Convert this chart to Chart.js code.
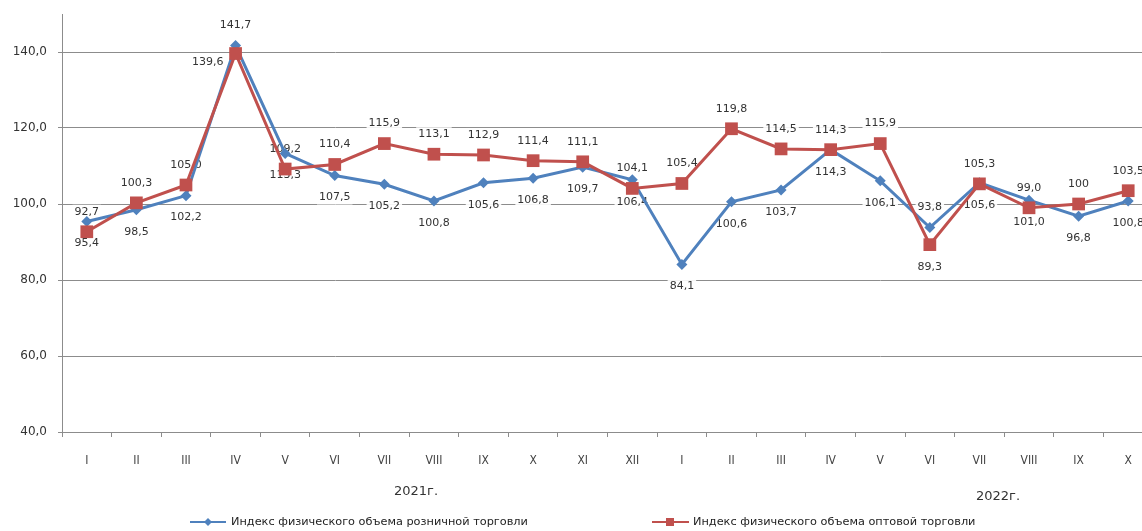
<!DOCTYPE html>
<html>
<head>
<meta charset="utf-8">
<script src="https://cdn.jsdelivr.net/npm/chart.js@4.4.1/dist/chart.umd.min.js"></script>
<style>
  html, body { margin: 0; padding: 0; background: #fff; overflow: hidden; }
  #wrap { width: 1154px; height: 531px; }
</style>
</head>
<body>
<div id="wrap"><canvas id="tradeChart" width="1154" height="531"></canvas></div>
<script>
(function() {
    const MONTHS = ['I', 'II', 'III', 'IV', 'V', 'VI', 'VII', 'VIII', 'IX', 'X', 'XI', 'XII',
                    'I', 'II', 'III', 'IV', 'V', 'VI', 'VII', 'VIII', 'IX', 'X'];
    const RETAIL = [95.4, 98.5, 102.2, 141.7, 113.3, 107.5, 105.2, 100.8, 105.6, 106.8, 109.7, 106.4,
                    84.1, 100.6, 103.7, 114.3, 106.1, 93.8, 105.6, 101.0, 96.8, 100.8];
    const WHOLESALE = [92.7, 100.3, 105.0, 139.6, 109.2, 110.4, 115.9, 113.1, 112.9, 111.4, 111.1, 104.1,
                       105.4, 119.8, 114.5, 114.3, 115.9, 89.3, 105.3, 99.0, 100, 103.5];
    const YEARS = ['2021г.', '2022г.'];
    const RETAIL_NAME = 'Индекс физического объема розничной торговли';
    const WHOLESALE_NAME = 'Индекс физического объема оптовой торговли';

    const BLUE = '#4F81BD';
    const RED = '#C0504D';
    const GRID = '#8c8c8c';

    function fmt(v) {
        if (v === 100) return '100';
        return v.toFixed(1).replace('.', ',');
    }

    // value labels, drawn under the lines like in the original
    const pointLabels = {
        id: 'pointLabels',
        beforeDatasetsDraw(chart, args, opts) {
            const ctx = chart.ctx;
            ctx.save();
            ctx.font = '11px "DejaVu Sans"';
            ctx.textBaseline = 'middle';
            ctx.textAlign = 'center';
            chart.data.datasets.forEach((ds, di) => {
                const meta = chart.getDatasetMeta(di);
                const place = opts.place[di];
                meta.data.forEach((pt, i) => {
                    const text = fmt(ds.data[i]);
                    const w = ctx.measureText(text).width;
                    let x = pt.x, y = pt.y;
                    const where = place[i];
                    if (where === 'a') y -= 20;
                    else if (where === 'b') y += 22;
                    else { x -= 12 + w / 2; y += 9; }
                    ctx.fillStyle = 'rgba(255,255,255,0.9)';
                    ctx.fillRect(x - w / 2 - 2, y - 7, w + 4, 14);
                    ctx.fillStyle = '#333';
                    ctx.fillText(text, x, y);
                });
            });
            ctx.restore();
        }
    };

    // year captions and legend under the axis
    const footer = {
        id: 'footer',
        afterDraw(chart) {
            const ctx = chart.ctx;
            ctx.save();
            ctx.fillStyle = '#333';
            ctx.textBaseline = 'middle';
            ctx.textAlign = 'center';
            ctx.font = '13px "DejaVu Sans"';
            ctx.fillText(YEARS[0], 416, 492);
            ctx.fillText(YEARS[1], 998, 497);

            ctx.textAlign = 'left';
            ctx.font = '11.3px "DejaVu Sans"';
            // retail
            ctx.strokeStyle = BLUE;
            ctx.lineWidth = 2;
            ctx.beginPath(); ctx.moveTo(190, 522); ctx.lineTo(226, 522); ctx.stroke();
            ctx.fillStyle = BLUE;
            ctx.beginPath();
            ctx.moveTo(208, 518); ctx.lineTo(212, 522); ctx.lineTo(208, 526); ctx.lineTo(204, 522);
            ctx.closePath(); ctx.fill();
            ctx.fillStyle = '#222';
            ctx.fillText(RETAIL_NAME, 231, 522);
            // wholesale
            ctx.strokeStyle = RED;
            ctx.beginPath(); ctx.moveTo(652, 522); ctx.lineTo(689, 522); ctx.stroke();
            ctx.fillStyle = RED;
            ctx.fillRect(666, 518, 8, 8);
            ctx.fillStyle = '#222';
            ctx.fillText(WHOLESALE_NAME, 693, 522);
            ctx.restore();
        }
    };

    const retailPlace = RETAIL.map((v, i) => (i === 3 || i === 17) ? 'a' : 'b');
    const wholesalePlace = WHOLESALE.map((v, i) => i === 3 ? 'l' : (i === 17 ? 'b' : 'a'));

    const ctx = document.getElementById('tradeChart').getContext('2d');
    new Chart(ctx, {
        type: 'line',
        data: {
            labels: MONTHS,
            datasets: [{
                label: RETAIL_NAME,
                data: RETAIL,
                borderColor: BLUE,
                backgroundColor: BLUE,
                borderWidth: 3,
                pointStyle: 'rectRot',
                pointRadius: 5.5,
                pointBorderWidth: 0,
                tension: 0,
                order: 1
            }, {
                label: WHOLESALE_NAME,
                data: WHOLESALE,
                borderColor: RED,
                backgroundColor: RED,
                borderWidth: 3,
                pointStyle: 'rect',
                pointRadius: 9,
                pointBorderWidth: 0,
                tension: 0,
                order: 0
            }]
        },
        options: {
            responsive: false,
            animation: false,
            layout: { autoPadding: false, padding: { top: 14, right: 1, left: 0, bottom: 0 } },
            plugins: {
                legend: { display: false },
                tooltip: { enabled: false },
                pointLabels: { place: [retailPlace, wholesalePlace] }
            },
            scales: {
                x: {
                    offset: true,
                    grid: {
                        offset: true,
                        drawOnChartArea: false,
                        drawTicks: true,
                        tickLength: 5,
                        color: GRID
                    },
                    border: { color: GRID },
                    ticks: {
                        padding: 17,
                        maxRotation: 0,
                        autoSkip: false,
                        color: '#444',
                        font: { family: '"DejaVu Sans Condensed", "DejaVu Sans"', size: 12 }
                    },
                    afterFit(scale) { scale.height = 99; }
                },
                y: {
                    min: 40,
                    max: 150,
                    afterBuildTicks(scale) {
                        scale.ticks = scale.ticks.filter(t => t.value <= 140);
                    },
                    grid: { color: GRID, tickLength: 4 },
                    border: { color: GRID },
                    ticks: {
                        stepSize: 20,
                        padding: 11,
                        color: '#333',
                        font: { family: '"DejaVu Sans"', size: 12 },
                        callback: v => v.toFixed(1).replace('.', ',')
                    },
                    afterFit(scale) {
                        scale.width = 62;
                        scale.paddingTop = 0;
                        scale.paddingBottom = 0;
                    }
                }
            }
        },
        plugins: [pointLabels, footer]
    });
})();
</script>
</body>
</html>
